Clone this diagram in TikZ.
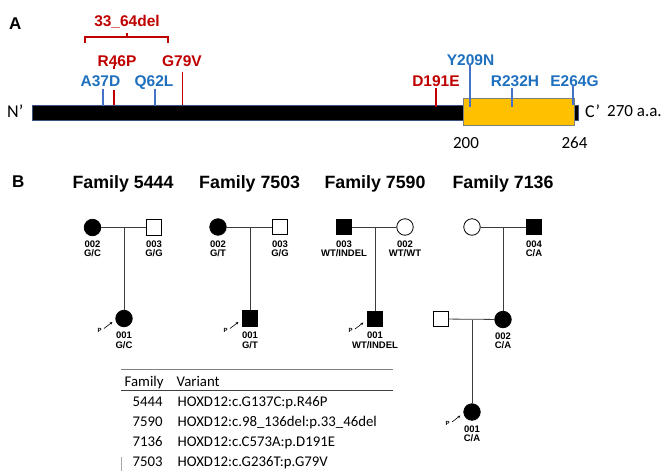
\documentclass[tikz,border=0pt]{standalone}
\usepackage{fontspec}
\setmainfont{Liberation Sans}
\newfontfamily\calib{Carlito}
\usetikzlibrary{arrows.meta,calc}
\definecolor{mred}{RGB}{192,0,0}
\definecolor{mblue}{RGB}{30,112,190}
\definecolor{tblue}{RGB}{68,114,196}
\definecolor{myellow}{RGB}{255,192,0}
\definecolor{pline}{RGB}{60,60,60}
\definecolor{barline}{RGB}{60,80,130}
\begin{document}
\begin{tikzpicture}[x=1pt,y=-1pt,
  panel/.style={font=\bfseries\fontsize{17}{17}\selectfont, inner sep=0pt, anchor=base west},
  mut/.style={font=\bfseries\fontsize{15.5}{16}\selectfont, inner sep=0pt, anchor=base},
  redt/.style={mut, text=mred},
  bluet/.style={mut, text=mblue},
  redtick/.style={draw=mred, line width=1.5pt},
  bluetick/.style={draw=tblue, line width=1.3pt},
  cal/.style={font=\calib\fontsize{18}{18}\selectfont, inner sep=0pt, anchor=base west},
  calnum/.style={font=\calib\fontsize{17}{17}\selectfont, inner sep=0pt, anchor=base},
  fam/.style={font=\bfseries\fontsize{17.8}{18}\selectfont, inner sep=0pt, anchor=base},
  fem/.style={circle, draw=black, line width=0.8pt, minimum size=16.5pt, inner sep=0pt},
  mal/.style={rectangle, draw=black, line width=0.8pt, minimum size=15.5pt, inner sep=0pt},
  aff/.style={fill=black},
  una/.style={fill=white},
  pid/.style={font=\bfseries\fontsize{9.5}{9.2}\selectfont, align=center, inner sep=0pt, anchor=north},
  rel/.style={draw=pline, line width=0.8pt},
  prob/.style={-{Stealth[length=3pt,width=2.6pt]}, line width=0.6pt},
  ptxt/.style={font=\bfseries\fontsize{6}{6}\selectfont, inner sep=0pt},
  tab/.style={font=\calib\fontsize{14.8}{15}\selectfont, inner sep=0pt, anchor=base west},
]
\useasboundingbox (0,0) rectangle (664,471);

% ---------------- Panel A ----------------
\node[panel] (lA) at (9,29) {A};
\node[fill=black, draw=barline, line width=0.6pt, minimum width=546pt, minimum height=15pt, inner sep=0pt, anchor=north west] (bar) at (32,104.5) {};
\node[fill=myellow, draw=gray, line width=0.8pt, minimum width=111pt, minimum height=27pt, inner sep=0pt, anchor=north west] (hd) at (463,98) {};
\node[cal] (np) at (7,117) {N’};
\node[cal] (cp) at (585,117) {C’};
\node[cal, font=\calib\fontsize{17}{17}\selectfont] (len) at (607,116.5) {270 a.a.};
\node[calnum] (n200) at (466,148.5) {200};
\node[calnum] (n264) at (574.5,148.5) {264};

% bracket and deletion label
\node[redt] (del) at (127,27) {33\_64del};
\coordinate (bl) at (85,43); \coordinate (blt) at (85,37);
\coordinate (br) at (168,43); \coordinate (brt) at (168,37);
\coordinate (bm) at (127,37); \coordinate (bmt) at (127,33);
\draw[redtick, line width=1.3pt] (bl) -- (blt) -- (brt) -- (br);
\draw[redtick, line width=1.3pt] (bm) -- (bmt);

% mutation labels
\node[redt] (r46p) at (117,66) {R46P};
\node[redt] (g79v) at (182,66) {G79V};
\node[bluet] (a37d) at (100.5,86) {A37D};
\node[bluet] (q62l) at (154,86) {Q62L};
\node[redt] (d191e) at (436,86) {D191E};
\node[bluet] (y209n) at (470.5,65) {Y209N};
\node[bluet] (r232h) at (515,86) {R232H};
\node[bluet] (e264g) at (574.5,86) {E264G};

% ticks
\coordinate (t1a) at (103,89); \coordinate (t1b) at (103,106);
\coordinate (t2a) at (114,90); \coordinate (t2b) at (114,105);
\coordinate (t2c) at (114,65.5); \coordinate (t2d) at (114,69);
\coordinate (t3a) at (155,89); \coordinate (t3b) at (155,106);
\coordinate (t4a) at (182.3,71.5); \coordinate (t4b) at (182.3,105);
\coordinate (t5a) at (436,88); \coordinate (t5b) at (436,107);
\coordinate (t6a) at (470,64); \coordinate (t6b) at (470,106.5);
\coordinate (t7a) at (512,88); \coordinate (t7b) at (512,107);
\coordinate (t8a) at (573,85); \coordinate (t8b) at (573,105);
\draw[bluetick] (t1a) -- (t1b);
\draw[redtick] (t2a) -- (t2b);
\draw[redtick] (t2c) -- (t2d);
\draw[bluetick] (t3a) -- (t3b);
\draw[redtick] (t4a) -- (t4b);
\draw[redtick] (t5a) -- (t5b);
\draw[bluetick] (t6a) -- (t6b);
\draw[bluetick] (t7a) -- (t7b);
\draw[bluetick] (t8a) -- (t8b);

% ---------------- Panel B ----------------
\node[panel] (lB) at (12,187.5) {B};
\node[fam] (f1) at (123,188.5) {Family 5444};
\node[fam] (f2) at (249.7,188.5) {Family 7503};
\node[fam] (f3) at (375,188.5) {Family 7590};
\node[fam] (f4) at (503,188.5) {Family 7136};

% Family 5444
\node[fem, aff] (a2) at (92.5,227.5) {};
\node[mal, una] (a3) at (154,227.5) {};
\node[fem, aff] (a1) at (124,318.5) {};
\draw[rel] (a2) -- (a3);
\coordinate (am) at (124,227.5);
\draw[rel] (am) -- (a1);
\node[pid] (a2l) at (92.5,240.5) {002\\G/C};
\node[pid] (a3l) at (154,240.5) {003\\G/G};
\node[pid] (a1l) at (124,332) {001\\G/C};

% Family 7503
\node[fem, aff] (b2) at (218,227) {};
\node[mal, una] (b3) at (280,227) {};
\node[mal, aff] (b1) at (250,318.5) {};
\draw[rel] (b2) -- (b3);
\coordinate (bm2) at (250,227);
\draw[rel] (bm2) -- (b1);
\node[pid] (b2l) at (218,240.5) {002\\G/T};
\node[pid] (b3l) at (280,240.5) {003\\G/G};
\node[pid] (b1l) at (250,332) {001\\G/T};

% Family 7590
\node[mal, aff] (c3) at (344,227) {};
\node[fem, una] (c2) at (405,227) {};
\node[mal, aff] (c1) at (375,319) {};
\draw[rel] (c3) -- (c2);
\coordinate (cm) at (375,227);
\draw[rel] (cm) -- (c1);
\node[pid] (c3l) at (344,240.5) {003\\WT/INDEL};
\node[pid] (c2l) at (405,240.5) {002\\WT/WT};
\node[pid] (c1l) at (375,332) {001\\WT/INDEL};

% Family 7136
\node[fem, una] (d5) at (472,227) {};
\node[mal, aff] (d4) at (534,227) {};
\node[mal, una] (d6) at (441,319) {};
\node[fem, aff] (d2) at (503,319.5) {};
\node[fem, aff] (d1) at (472,412) {};
\draw[rel] (d5) -- (d4);
\coordinate (dm1) at (503,227);
\draw[rel] (dm1) -- (d2);
\draw[rel] (d6) -- (d2);
\coordinate (dm2) at (472,319.5);
\draw[rel] (dm2) -- (d1);
\node[pid] (d4l) at (534,240.5) {004\\C/A};
\node[pid] (d2l) at (503,332.5) {002\\C/A};
\node[pid] (d1l) at (472,425.5) {001\\C/A};

% proband arrows
\foreach \c/\n in {a1/pa, b1/pb, c1/pc, d1/pd}{
  \coordinate (\n s) at ($(\c.center)+(-20,10)$);
  \coordinate (\n e) at ($(\c.center)+(-11.5,3.5)$);
  \draw[prob] (\n s) -- (\n e);
  \node[ptxt] (\n t) at ($(\c.center)+(-24.5,11.5)$) {P};
}

% ---------------- Table ----------------
\coordinate (tl1) at (121,369); \coordinate (tr1) at (393,369);
\coordinate (tl2) at (121,390.5); \coordinate (tr2) at (393,390.5);
\coordinate (vl1) at (121,457); \coordinate (vl2) at (121,471);
\draw[draw=gray, line width=1pt] (tl1) -- (tr1);
\draw[draw=black!75, line width=1.1pt] (tl2) -- (tr2);
\draw[draw=gray!70, line width=0.6pt] (vl1) -- (vl2);
\node[tab] (h1) at (124.5,386.5) {Family};
\node[tab] (h2) at (176.5,386.5) {Variant};
\node[tab] (r1a) at (132.5,406.5) {5444};
\node[tab] (r1b) at (177.5,406.5) {HOXD12:c.G137C:p.R46P};
\node[tab] (r2a) at (132.5,426.5) {7590};
\node[tab] (r2b) at (177.5,426.5) {HOXD12:c.98\_136del:p.33\_46del};
\node[tab] (r3a) at (132.5,446.5) {7136};
\node[tab] (r3b) at (177.5,446.5) {HOXD12:c.C573A:p.D191E};
\node[tab] (r4a) at (132.5,466.5) {7503};
\node[tab] (r4b) at (177.5,466.5) {HOXD12:c.G236T:p.G79V};
\end{tikzpicture}
\end{document}
